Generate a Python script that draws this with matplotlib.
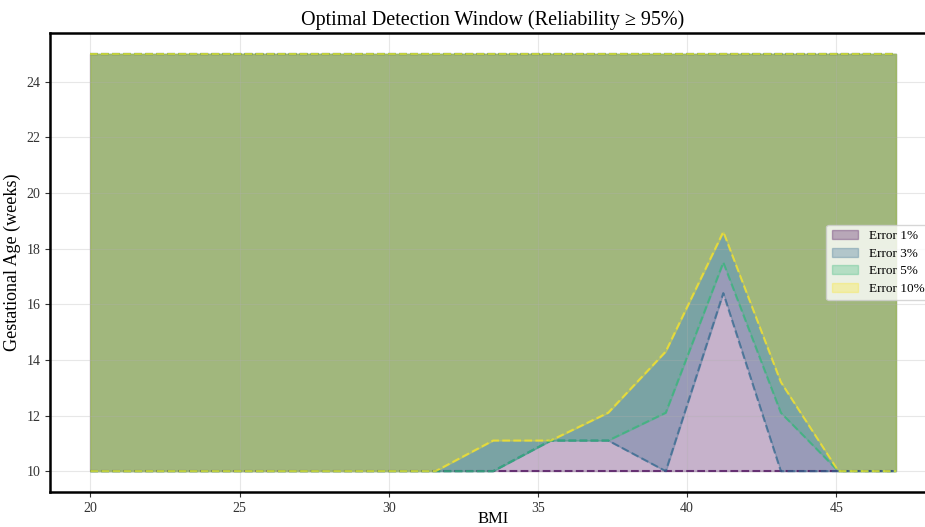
import numpy as np
import matplotlib
matplotlib.use("Agg")
import matplotlib.pyplot as plt

plt.rcParams['font.family'] = ['Liberation Serif', 'DejaVu Sans']

# BMI grid and lower bound of the detection window for each error level
bmi = np.linspace(20, 47, 15)
lower_1 = [10, 10, 10, 10, 10, 10, 10, 10, 10, 10, 10, 10, 10, 10, 10]
lower_3 = [10, 10, 10, 10, 10, 10, 10, 10, 11.1, 11.1, 10, 16.4, 10, 10, 10]
lower_5 = [10, 10, 10, 10, 10, 10, 10, 10, 11.1, 11.1, 12.1, 17.5, 12.1, 10, 10]
lower_10 = [10, 10, 10, 10, 10, 10, 10, 11.1, 11.1, 12.1, 14.3, 18.6, 13.2, 10, 10]
upper = [25] * 15

labels = ['Error 1%', 'Error 3%', 'Error 5%', 'Error 10%']
lowers = [lower_1, lower_3, lower_5, lower_10]
colors = plt.cm.viridis(np.linspace(0, 1, len(labels)))

fig = plt.figure(figsize=(9.25, 5.27), dpi=100)
ax = fig.add_axes([0.0541, 0.0664, 0.958, 0.871])

for lab, low, c in zip(labels, lowers, colors):
    ax.fill_between(bmi, low, upper, color=c, alpha=0.3, label=lab)
    ax.plot(bmi, low, '--', color=c, alpha=0.7, linewidth=1.5)
    ax.plot(bmi, upper, '--', color=c, alpha=0.7, linewidth=1.5)

ax.set_title('Optimal Detection Window (Reliability \u2265 95%)', fontsize=14.5)
ax.set_xlabel('BMI', fontsize=12, labelpad=-3)
ax.set_ylabel('Gestational Age (weeks)', fontsize=13)
ax.tick_params(labelsize=10, colors='#333333')
ax.grid(True, alpha=0.3)
for sp in ax.spines.values():
    sp.set_linewidth(1.8)
ax.legend(loc='center right', fontsize=9.5, labelspacing=0.4)

fig.savefig('out.png', dpi=100)
